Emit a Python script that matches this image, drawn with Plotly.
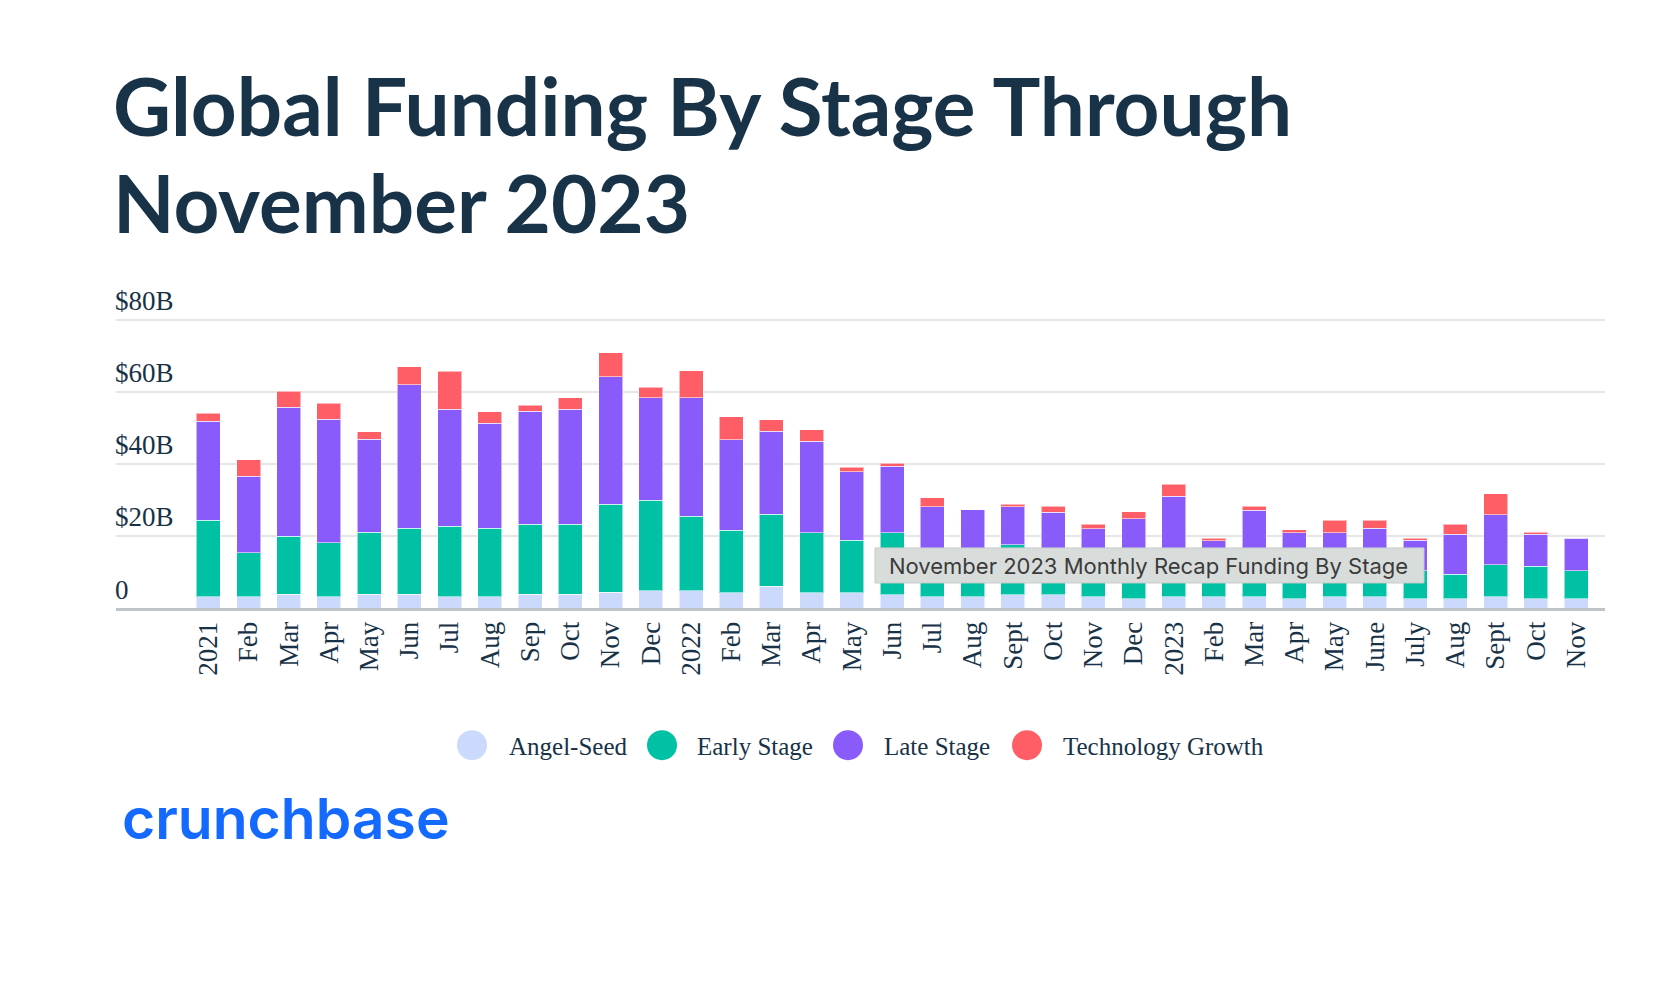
import plotly.graph_objects as go

months = ["2021", "Feb", "Mar", "Apr", "May", "Jun", "Jul", "Aug", "Sep", "Oct", "Nov", "Dec",
          "2022", "Feb", "Mar", "Apr", "May", "Jun", "Jul", "Aug", "Sept", "Oct", "Nov", "Dec",
          "2023", "Feb", "Mar", "Apr", "May", "June", "July", "Aug", "Sept", "Oct", "Nov"]

angel_seed = [3.1, 3.1, 3.8, 3.1, 3.8, 3.8, 3.1, 3.1, 3.8, 3.8, 4.4, 4.8,
              4.8, 4.3, 6.0, 4.3, 4.3, 3.7, 3.1, 3.1, 3.7, 3.7, 3.1, 2.6,
              3.1, 3.1, 3.1, 2.6, 3.1, 3.1, 2.6, 2.6, 3.1, 2.6, 2.6]
early_stage = [21.3, 12.3, 16.1, 15.0, 17.2, 18.3, 19.6, 19.0, 19.4, 19.4, 24.4, 25.1,
               20.7, 17.3, 20.0, 16.6, 14.5, 17.2, 12.5, 12.0, 13.9, 11.5, 9.5, 10.0,
               10.5, 8.5, 10.0, 9.0, 9.5, 9.0, 7.8, 6.7, 8.9, 9.0, 7.8]
late_stage = [27.4, 21.2, 35.8, 34.3, 25.8, 39.8, 32.5, 29.2, 31.4, 31.9, 35.3, 28.5,
              32.9, 25.1, 23.0, 25.3, 19.0, 18.5, 12.5, 12.1, 10.5, 11.4, 9.4, 12.2,
              17.4, 7.1, 14.0, 9.3, 8.3, 10.0, 8.4, 11.1, 13.9, 8.8, 9.0]
tech_growth = [2.2, 4.5, 4.5, 4.4, 2.1, 5.0, 10.5, 3.2, 1.6, 3.3, 6.7, 2.9,
               7.4, 6.3, 3.3, 3.3, 1.2, 0.7, 2.5, 0.0, 0.7, 1.7, 1.2, 1.9,
               3.4, 0.7, 1.2, 0.8, 3.5, 2.3, 0.6, 2.8, 5.8, 0.6, 0.0]

series_names = ["Angel-Seed", "Early Stage", "Late Stage", "Technology Growth"]
series_values = [angel_seed, early_stage, late_stage, tech_growth]
series_colors = ["#cbdafc", "#00c1a4", "#895bfb", "#ff5e66"]

y_ticks = [0, 20, 40, 60, 80]
y_ticktext = ["0", "$20B", "$40B", "$60B", "$80B"]

title_lines = ["Global Funding By Stage Through", "November 2023"]
tooltip_text = "November 2023 Monthly Recap Funding By Stage"
logo_text = "crunchbase"

W, H = 1668, 984
Y_MAX = 96
PX_PER_UNIT = 3.6
L, R, B = 116, 1605, 608
T = B - Y_MAX * PX_PER_UNIT
NAVY = "#183247"


def xp(px):
    return (px - L) / (R - L)


def yp(py):
    return (B - py) / (B - T)


idx = list(range(len(months)))
fig = go.Figure()
for name, vals, col in zip(series_names, series_values, series_colors):
    fig.add_trace(go.Bar(
        x=idx, y=vals, name=name, width=0.597,
        marker=dict(color=col, line=dict(color="rgba(255,255,255,0.55)", width=1)),
        showlegend=False, hoverinfo="skip",
    ))

shapes = []
annotations = []

# title
for line, ymid in zip(title_lines, [106, 202]):
    annotations.append(dict(text=line, x=xp(111), y=yp(ymid), xref="paper", yref="paper",
                            xanchor="left", yanchor="middle", showarrow=False,
                            font=dict(family="Lato", size=80, weight=700, color=NAVY)))

# custom legend with circles
leg_cx = [472, 662, 848, 1027]
leg_tx = [507, 695, 882, 1061]
leg_y = 745
for name, col, cx, tx in zip(series_names, series_colors, leg_cx, leg_tx):
    shapes.append(dict(type="circle", xref="paper", yref="paper", xsizemode="pixel", ysizemode="pixel",
                       xanchor=xp(cx), yanchor=yp(leg_y), x0=-15, x1=15, y0=-15, y1=15,
                       fillcolor=col, line=dict(width=0)))
    annotations.append(dict(text=name, x=xp(tx), y=yp(leg_y + 1), xref="paper", yref="paper",
                            xanchor="left", yanchor="middle", showarrow=False,
                            font=dict(family="Liberation Serif", size=25, color=NAVY)))

# logo
annotations.append(dict(text=logo_text, x=xp(120), y=yp(818), xref="paper", yref="paper",
                        xanchor="left", yanchor="middle", showarrow=False,
                        font=dict(family="Inter", size=57, weight=600, color="#146aff")))

# tooltip overlay
shapes.append(dict(type="rect", xref="paper", yref="paper", layer="above",
                   x0=xp(875), x1=xp(1424), y0=yp(583), y1=yp(548),
                   fillcolor="#d8dddc", line=dict(color="#c6cbca", width=1)))
annotations.append(dict(text=tooltip_text, x=xp(887), y=yp(566), xref="paper", yref="paper",
                        xanchor="left", yanchor="middle", showarrow=False,
                        font=dict(family="Inter", size=22, color="#3b3b3b")))

fig.update_layout(
    width=W, height=H,
    margin=dict(l=L, r=W - R, t=T, b=H - B, pad=0),
    barmode="stack",
    plot_bgcolor="white", paper_bgcolor="white",
    showlegend=False,
    hovermode=False,
    shapes=shapes,
    annotations=annotations,
    xaxis=dict(
        range=[-2.294, 34.72],
        tickmode="array", tickvals=idx, ticktext=months,
        tickangle=-90, ticks="", showgrid=False, zeroline=False,
        showline=True, linecolor="#bec5c9", linewidth=3,
        tickfont=dict(family="Liberation Serif", size=27, color=NAVY),
        fixedrange=True,
    ),
    yaxis=dict(
        range=[0, Y_MAX],
        tickmode="array", tickvals=y_ticks, ticktext=y_ticktext,
        ticklabelposition="inside top", ticklabelstandoff=-4, ticks="",
        showgrid=True, gridcolor="#e6e6e6", gridwidth=2, zeroline=False,
        showline=False,
        tickfont=dict(family="Liberation Serif", size=27, color=NAVY),
        fixedrange=True,
    ),
)

fig.write_html("out.html")
